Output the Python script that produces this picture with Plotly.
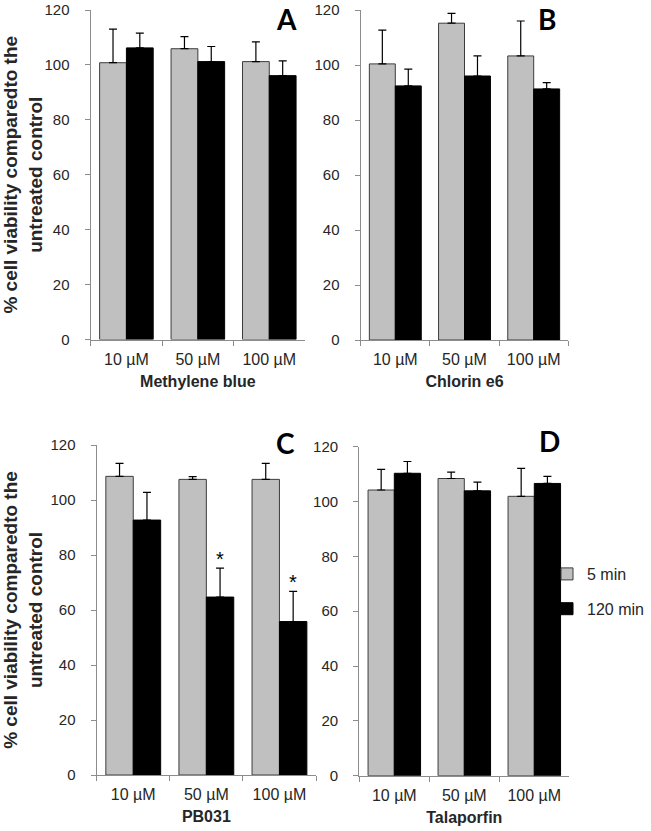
import plotly.graph_objects as go

# ---------------- data ----------------
categories = ["10 µM", "50 µM", "100 µM"]
series_names = ["5 min", "120 min"]
panel_letters = ["A", "B", "C", "D"]
compounds = ["Methylene blue", "Chlorin e6", "PB031", "Talaporfin"]

a_5min = [100.8, 105.9, 101.2]
a_5min_err = [12.2, 4.4, 7.2]
a_120min = [106.2, 101.2, 96.1]
a_120min_err = [5.4, 5.5, 5.4]

b_5min = [100.4, 115.2, 103.3]
b_5min_err = [12.3, 3.6, 12.7]
b_120min = [92.4, 96.0, 91.3]
b_120min_err = [6.1, 7.3, 2.3]

c_5min = [108.6, 107.5, 107.5]
c_5min_err = [4.7, 1.0, 5.8]
c_120min = [92.7, 64.7, 55.8]
c_120min_err = [10.1, 10.5, 11.0]
c_120min_sig = ["", "*", "*"]

d_5min = [104.2, 108.4, 101.9]
d_5min_err = [7.5, 2.3, 10.2]
d_120min = [110.3, 103.9, 106.6]
d_120min_err = [4.3, 3.2, 2.6]

y_ticks = [0, 20, 40, 60, 80, 100, 120]
y_title = "% cell viability comparedto the<br>untreated control"

panels = [
    (a_5min, a_5min_err, a_120min, a_120min_err, None),
    (b_5min, b_5min_err, b_120min, b_120min_err, None),
    (c_5min, c_5min_err, c_120min, c_120min_err, c_120min_sig),
    (d_5min, d_5min_err, d_120min, d_120min_err, None),
]

# ---------------- layout geometry (page pixels) ----------------
W, H = 651, 831


def fx(px):
    return px / W


def fy(py):
    return 1 - py / H


x_domains = [(90.7, 305.0), (360.7, 568.3), (96.7, 316.0), (359.3, 569.3)]
y_domains = [(10.0, 339.5), (10.0, 340.0), (445.0, 775.0), (446.7, 775.7)]
letter_pos = [(286, 0), (547, 0), (285, 424), (549, 422)]

FONT = "Liberation Sans, Arial, sans-serif"
AXIS_COLOR = "#8c8c8c"
TEXT_COLOR = "#262626"
GRAY = "#c0c0c0"

fig = go.Figure()
annotations = []

for i, (g, ge, b, be, sig) in enumerate(panels):
    n = "" if i == 0 else str(i + 1)
    xa, ya = "x" + n, "y" + n
    fig.add_trace(go.Bar(
        x=categories, y=g, name=series_names[0], xaxis=xa, yaxis=ya,
        marker=dict(color=GRAY, line=dict(color="#3c3c3c", width=1)),
        error_y=dict(type="data", array=ge, arrayminus=[0] * len(ge), symmetric=False,
                     color="#000000", thickness=1.2, width=4),
        legendgroup="g5", showlegend=(i == 0),
    ))
    fig.add_trace(go.Bar(
        x=categories, y=b, name=series_names[1], xaxis=xa, yaxis=ya,
        marker=dict(color="#000000", line=dict(color="#000000", width=1)),
        error_y=dict(type="data", array=be, arrayminus=[0] * len(be), symmetric=False,
                     color="#000000", thickness=1.2, width=4),
        legendgroup="g120", showlegend=(i == 0),
    ))
    if sig:
        for k, s in enumerate(sig):
            if s:
                annotations.append(dict(
                    x=categories[k], y=b[k] + be[k], xref=xa, yref=ya,
                    text=s, showarrow=False, xshift=14, yshift=9,
                    yanchor="middle", xanchor="center",
                    font=dict(family=FONT, size=20, color="#000000"),
                ))

    x0, x1 = x_domains[i]
    y0, y1 = y_domains[i]
    xaxis = dict(
        domain=[fx(x0), fx(x1)], anchor=ya, type="category", automargin=False,
        showline=True, linecolor=AXIS_COLOR, linewidth=1.3,
        ticks="outside", tickson="boundaries", ticklen=5, tickcolor=AXIS_COLOR,
        tickfont=dict(family=FONT, size=16, color=TEXT_COLOR), ticklabelstandoff=5,
        showgrid=False, zeroline=False,
        title=dict(text="<b>" + compounds[i] + "</b>", standoff=8,
                   font=dict(family=FONT, size=16, color=TEXT_COLOR)),
    )
    yaxis = dict(
        domain=[fy(y1), fy(y0)], anchor=xa, range=[0, 120], automargin=False,
        tickvals=y_ticks, showline=True, linecolor=AXIS_COLOR, linewidth=1.3,
        ticks="outside", ticklen=5, tickcolor=AXIS_COLOR,
        tickfont=dict(family=FONT, size=15, color=TEXT_COLOR),
        showgrid=False, zeroline=False, ticklabelstandoff=12,
    )
    if i in (0, 2):
        yaxis["title"] = dict(text="<b>" + y_title + "</b>", standoff=8,
                              font=dict(family=FONT, size=19, color=TEXT_COLOR))
    fig.update_layout(**{"xaxis" + n: xaxis, "yaxis" + n: yaxis})

    lx, ly = letter_pos[i]
    annotations.append(dict(
        x=fx(lx), y=fy(ly), xref="paper", yref="paper",
        text="<b>" + panel_letters[i] + "</b>", showarrow=False,
        xanchor="center", yanchor="top",
        font=dict(family="Lato, Open Sans, sans-serif", size=28, color="#000000"),
    ))

fig.update_layout(
    width=W, height=H,
    margin=dict(l=0, r=0, t=0, b=0, autoexpand=False),
    paper_bgcolor="white", plot_bgcolor="white",
    barmode="group", bargap=0.25, bargroupgap=0,
    annotations=annotations,
    legend=dict(x=fx(547), y=fy(557), xanchor="left", yanchor="top",
                font=dict(family=FONT, size=16, color=TEXT_COLOR),
                tracegroupgap=11, bgcolor="rgba(0,0,0,0)"),
)

fig.write_html(
    "out.html",
    config={"displayModeBar": False},
    post_script="document.body.style.margin='0';document.body.style.overflow='hidden';",
)
